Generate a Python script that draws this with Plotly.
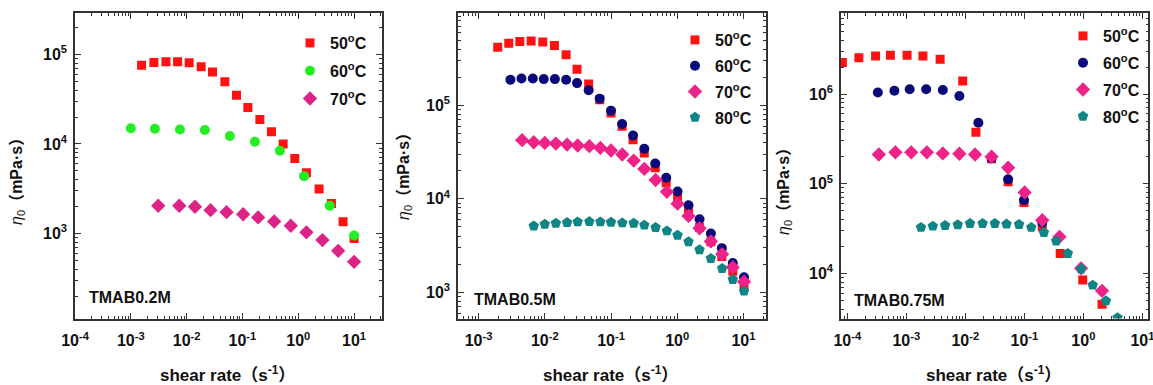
import numpy as np
import plotly.graph_objects as go

W, H = 1153, 385

series_labels = ["50<sup>o</sup>C", "60<sup>o</sup>C", "70<sup>o</sup>C", "80<sup>o</sup>C"]
panel_names = ["TMAB0.2M", "TMAB0.5M", "TMAB0.75M"]

# ---------------- Panel 1: TMAB0.2M ----------------
p1_50_x = [1.56e-3, 2.59e-3, 4.26e-3, 6.89e-3, 1.11e-2, 1.82e-2, 2.91e-2, 4.84e-2, 7.83e-2, 0.125,
           0.205, 0.331, 0.536, 0.867, 1.40, 2.36, 3.93, 6.35, 10.0]
p1_50_y = [76000, 81500, 82800, 82800, 80700, 72800, 63500, 49500, 35100, 25600,
           18800, 13700, 10000, 6890, 4760, 3130, 2160, 1350, 880]
p1_60_x = [1.0e-3, 2.70e-3, 7.57e-3, 2.12e-2, 5.94e-2, 0.167, 0.467, 1.27, 3.66, 10.0]
p1_60_y = [15000, 14800, 14500, 14300, 12300, 10600, 8390, 4370, 2040, 950]
p1_70_x = [3.10e-3, 7.38e-3, 1.41e-2, 2.68e-2, 5.19e-2, 0.103, 0.191, 0.370, 0.735, 1.40, 2.71, 5.18, 10.0]
p1_70_y = [2040, 2040, 1990, 1820, 1730, 1640, 1510, 1360, 1220, 1030, 843, 640, 482]

# ---------------- Panel 2: TMAB0.5M ----------------
p2_50_x = [1.95e-3, 2.86e-3, 4.20e-3, 6.22e-3, 9.33e-3, 1.40e-2, 2.10e-2, 3.07e-2, 4.60e-2, 6.75e-2,
           0.100, 0.147, 0.215, 0.318, 0.466, 0.682, 1.01, 1.48, 2.17, 3.22, 4.71, 6.90, 10.2]
p2_50_y = [419000, 461000, 481000, 489000, 477000, 436000, 347000, 244000, 169000, 115000,
           82800, 59700, 43000, 31000, 21500, 14900, 10300, 7120, 4930, 3470, 2420, 1680, 1210]
p2_60_x = [3.03e-3, 4.45e-3, 6.59e-3, 9.66e-3, 1.42e-2, 2.10e-2, 3.07e-2, 4.60e-2, 6.75e-2, 0.100,
           0.147, 0.215, 0.318, 0.466, 0.682, 1.01, 1.48, 2.17, 3.22, 4.71, 6.90, 10.2]
p2_60_y = [188000, 194000, 194000, 191000, 191000, 188000, 173000, 145000, 118000, 87800,
           63200, 47500, 34300, 23900, 16800, 12000, 8530, 6050, 4260, 2970, 2060, 1450]
p2_70_x = [4.55e-3, 6.82e-3, 1.0e-2, 1.47e-2, 2.17e-2, 3.14e-2, 4.71e-2, 6.90e-2, 0.100, 0.148,
           0.220, 0.318, 0.471, 0.698, 1.01, 1.48, 2.17, 3.22, 4.76, 6.90, 10.2]
p2_70_y = [42400, 40300, 39700, 39000, 38100, 37200, 36600, 35100, 32900, 29800,
           25700, 20900, 15900, 11900, 8880, 6560, 4850, 3500, 2560, 1850, 1300]
p2_80_x = [6.82e-3, 1.0e-2, 1.47e-2, 2.17e-2, 3.14e-2, 4.71e-2, 6.90e-2, 0.100, 0.148, 0.220,
           0.318, 0.471, 0.698, 1.01, 1.48, 2.17, 3.22, 4.76, 6.90, 10.2]
p2_80_y = [5130, 5340, 5480, 5570, 5670, 5710, 5670, 5620, 5530, 5480,
           5230, 4930, 4540, 4080, 3470, 2850, 2300, 1800, 1370, 1030]

# ---------------- Panel 3: TMAB0.75M ----------------
p3_50_x = [8.24e-5, 1.57e-4, 3.01e-4, 5.37e-4, 1.03e-3, 1.91e-3, 3.74e-3, 9.02e-3, 1.51e-2, 2.78e-2,
           5.31e-2, 9.86e-2, 0.201, 0.405, 0.975, 2.07]
p3_50_y = [2.24e6, 2.54e6, 2.65e6, 2.70e6, 2.70e6, 2.65e6, 2.44e6, 1.40e6, 3.74e5, 1.9e5,
           1.05e5, 6.2e4, 3.31e4, 1.67e4, 8430, 4550]
p3_60_x = [3.29e-4, 6.28e-4, 1.14e-3, 2.17e-3, 4.15e-3, 7.92e-3, 1.66e-2, 2.78e-2, 5.31e-2, 9.86e-2, 0.201]
p3_60_y = [1.04e6, 1.09e6, 1.13e6, 1.13e6, 1.11e6, 9.5e5, 4.79e5, 1.92e5, 1.12e5, 6.57e4, 3.67e4]
p3_70_x = [3.42e-4, 6.53e-4, 1.21e-3, 2.23e-3, 4.15e-3, 7.92e-3, 1.46e-2, 2.78e-2, 5.31e-2, 0.101,
           0.201, 0.394, 0.914, 2.07]
p3_70_y = [2.12e5, 2.24e5, 2.24e5, 2.24e5, 2.18e5, 2.16e5, 2.12e5, 2.0e5, 1.51e5, 8.0e4,
           3.93e4, 2.56e4, 1.14e4, 6410]
p3_80_x = [1.77e-3, 2.81e-3, 4.54e-3, 7.43e-3, 1.20e-2, 1.96e-2, 3.16e-2, 4.98e-2, 8.13e-2, 0.131,
           0.214, 0.346, 0.545, 0.914, 1.44, 2.41, 3.79]
p3_80_y = [32600, 33700, 34300, 34900, 36100, 36100, 36100, 35500, 35200, 32600,
           28600, 23000, 16700, 11200, 7410, 4950, 3210]

x_tick_exps = [[-4, -3, -2, -1, 0, 1], [-3, -2, -1, 0, 1], [-4, -3, -2, -1, 0, 1]]
y_tick_exps = [[3, 4, 5], [3, 4, 5], [4, 5, 6]]

panels = [
    [(p1_50_x, p1_50_y), (p1_60_x, p1_60_y), (p1_70_x, p1_70_y)],
    [(p2_50_x, p2_50_y), (p2_60_x, p2_60_y), (p2_70_x, p2_70_y), (p2_80_x, p2_80_y)],
    [(p3_50_x, p3_50_y), (p3_60_x, p3_60_y), (p3_70_x, p3_70_y), (p3_80_x, p3_80_y)],
]

# ---------------- styles ----------------
colors_p1 = ["#ff1111", "#22ee22", "#dd2288"]
colors_other = ["#ff1111", "#0a0a7a", "#ee2288", "#108585"]
symbols = ["square", "circle", "diamond", "pentagon"]
sizes = [9, 10, 11, 11]

# positions in window pixels
x_px = [(75, 382), (458, 766), (841, 1148.3)]
y_px = (13.3, 318.5)
x_ranges = [[-4.0, 1.5], [-3.31, 1.34], [-4.107, 1.10]]
y_ranges = [[2.05, 5.46], [2.72, 5.985], [3.498, 6.90]]
legend_pos = [(290, 26), (675, 23), (1063, 19)]
legend_gap = [4, 2, 3]
label_pos = [(87, 297), (472, 299), (852, 300)]
ytitle_x = [18, 404, 785]
ytitle_y = [178, 173, 188]
xtitle_x = [227, 610, 993]


def px_x(X):
    return X / W


def px_y(Y):
    return 1 - Y / H


FONT = "Arial, Liberation Sans, Noto Sans CJK SC, sans-serif"

fig = go.Figure()
layout = {}
annotations = []

mvals = [k * 10.0 ** e for e in range(-5, 8) for k in range(2, 10)]

for i, series in enumerate(panels):
    ax = "" if i == 0 else str(i + 1)
    cols = colors_p1 if i == 0 else colors_other
    leg = "legend" if i == 0 else f"legend{i + 1}"
    for j, (xs, ys) in enumerate(series):
        fig.add_trace(go.Scatter(
            x=xs, y=ys, mode="markers", name=series_labels[j],
            xaxis="x" + ax, yaxis="y" + ax, legend=leg,
            legendgroup=f"p{i}s{j}",
            marker=dict(symbol=symbols[j], size=sizes[j], color=cols[j], line=dict(width=0)),
        ))

    axis_common = dict(
        type="log", showgrid=False, zeroline=False, showline=True, linecolor="#333333", linewidth=1.5,
        mirror="allticks", ticks="inside", ticklen=6, tickwidth=1.2, tickcolor="#333333",
        automargin=False, ticklabeloverflow="allow",
        tickfont=dict(family=FONT, size=16, color="#111111", weight="bold"),
        minor=dict(ticks="inside", ticklen=3, tickwidth=1, tickcolor="#333333", tickvals=mvals, showgrid=False),
    )
    layout["xaxis" + ax] = dict(
        axis_common,
        domain=[px_x(x_px[i][0]), px_x(x_px[i][1])], range=x_ranges[i], anchor="y" + ax,
        tickmode="array", tickvals=[10.0 ** e for e in x_tick_exps[i]],
        ticktext=[f"10<sup>{e}</sup>" for e in x_tick_exps[i]],
        ticklabelstandoff=7,
    )
    layout["yaxis" + ax] = dict(
        axis_common,
        domain=[px_y(y_px[1]), px_y(y_px[0])], range=y_ranges[i], anchor="x" + ax,
        tickmode="array", tickvals=[10.0 ** e for e in y_tick_exps[i]],
        ticktext=[f"10<sup>{e}</sup>" for e in y_tick_exps[i]],
        ticklabelstandoff=3,
    )
    layout[leg] = dict(
        x=px_x(legend_pos[i][0]), y=px_y(legend_pos[i][1]), xanchor="left", yanchor="top",
        bgcolor="rgba(0,0,0,0)", borderwidth=0, tracegroupgap=legend_gap[i],
        font=dict(family=FONT, size=16, color="#111111", weight="bold"),
    )
    annotations.append(dict(
        x=px_x(label_pos[i][0]), y=px_y(label_pos[i][1]), xref="paper", yref="paper",
        xanchor="left", yanchor="middle", text=panel_names[i], showarrow=False,
        font=dict(family=FONT, size=16, color="#111111", weight="bold"),
    ))
    annotations.append(dict(
        x=px_x(ytitle_x[i]), y=px_y(ytitle_y[i]), xref="paper", yref="paper",
        xanchor="center", yanchor="middle", textangle=-90, showarrow=False,
        text="<i>η</i><sub>0</sub><b>（mPa·s）</b>",
        font=dict(family=FONT, size=16, color="#111111"),
    ))
    annotations.append(dict(
        x=px_x(xtitle_x[i]), y=px_y(374), xref="paper", yref="paper",
        xanchor="center", yanchor="middle", showarrow=False,
        text="shear rate（s<sup>-1</sup>）",
        font=dict(family=FONT, size=17, color="#111111", weight="bold"),
    ))

fig.update_layout(
    width=W, height=H, margin=dict(l=0, r=0, t=0, b=0, autoexpand=False),
    paper_bgcolor="white", plot_bgcolor="white",
    annotations=annotations, **layout,
)

fig.write_html(
    "out.html",
    config={"displayModeBar": False},
    post_script="document.body.style.margin='0px';document.body.style.overflow='hidden';",
)
